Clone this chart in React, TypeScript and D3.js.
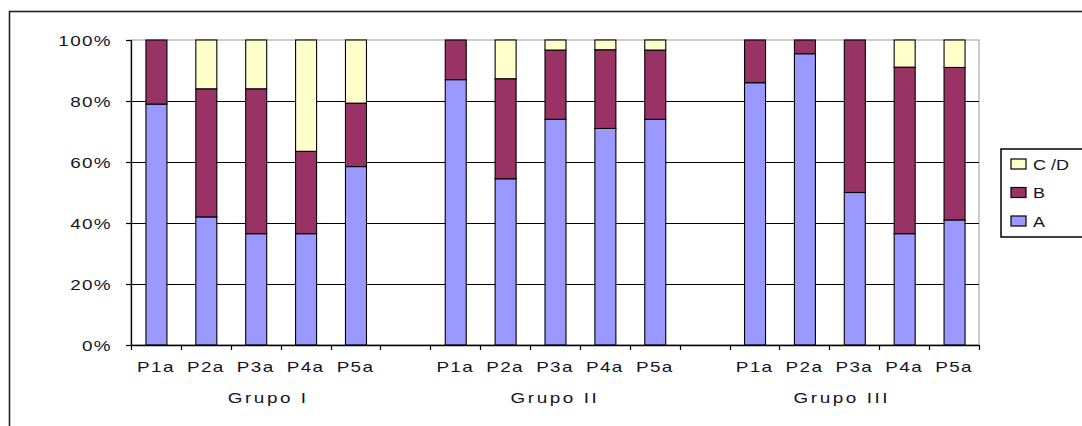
import React, { useEffect, useRef } from "react";
import * as d3 from "d3";

const categories = ["P1a", "P2a", "P3a", "P4a", "P5a"];
const groups = ["Grupo I", "Grupo II", "Grupo III"];
const seriesNames = ["A", "B", "C /D"];
const seriesColors = ["#9999FF", "#993366", "#FFFFCC"];
// values per group, per category (percent)
const valuesA = [
  [79, 42, 36.5, 36.5, 58.5],
  [87, 54.5, 74, 71, 74],
  [86, 95.5, 50, 36.5, 41],
];
const valuesB = [
  [21, 42, 47.5, 27, 20.8],
  [13, 32.8, 22.7, 25.8, 22.7],
  [14, 4.5, 50, 54.6, 50],
];
const valuesC = [
  [0, 16, 16, 36.5, 20.7],
  [0, 12.7, 3.3, 3.2, 3.3],
  [0, 0, 0, 8.9, 9],
];
const yTicks = [0, 20, 40, 60, 80, 100];

export default function App() {
  const ref = useRef<SVGSVGElement>(null);
  useEffect(() => {
    const svg = d3.select(ref.current);
    svg.selectAll("*").remove();
    const W = 1082, H = 426;
    const left = 131, right = 979, top = 40, bottom = 345;
    const nSlots = 17;
    const font = "'Liberation Sans', Arial, sans-serif";
    const sx = 1.35;
    const txtColor = "#141428";

    const slotIndex = (g: number, c: number) => g * 6 + c;
    const x = d3.scaleLinear().domain([0, nSlots]).range([left, right]);
    const y = d3.scaleLinear().domain([0, 100]).range([bottom, top]);
    const barW = 21;

    svg.append("rect").attr("x", 0).attr("y", 0).attr("width", W).attr("height", H).attr("fill", "#fff");
    svg.append("rect").attr("x", 9.5).attr("y", 11.5).attr("width", 1200).attr("height", 600)
      .attr("fill", "none").attr("stroke", "#222").attr("stroke-width", 1.6);

    svg.append("rect").attr("x", left).attr("y", top).attr("width", right - left).attr("height", bottom - top)
      .attr("fill", "none").attr("stroke", "#999").attr("stroke-width", 1);

    yTicks.filter((t) => t > 0 && t < 100).forEach((t) => {
      svg.append("line").attr("x1", left).attr("x2", right).attr("y1", Math.round(y(t)) + 0.5).attr("y2", Math.round(y(t)) + 0.5)
        .attr("stroke", "#000").attr("stroke-width", 1);
    });

    const seriesVals = [valuesA, valuesB, valuesC];
    groups.forEach((_, g) => {
      categories.forEach((_, c) => {
        let base = 0;
        seriesVals.forEach((sv, s) => {
          const v = sv[g][c];
          if (v > 0) {
            const cx = x(slotIndex(g, c) + 0.5);
            svg.append("rect")
              .attr("x", cx - barW / 2 + 0.5)
              .attr("y", y(base + v))
              .attr("width", barW)
              .attr("height", y(base) - y(base + v))
              .attr("fill", seriesColors[s])
              .attr("stroke", "#000")
              .attr("stroke-width", 1.1);
          }
          base += v;
        });
      });
    });

    svg.append("line").attr("x1", left + 0.5).attr("x2", left + 0.5).attr("y1", top).attr("y2", bottom + 0.5)
      .attr("stroke", "#000").attr("stroke-width", 1.3);
    svg.append("line").attr("x1", left).attr("x2", right).attr("y1", bottom + 0.5).attr("y2", bottom + 0.5)
      .attr("stroke", "#000").attr("stroke-width", 1.3);
    yTicks.forEach((t) => {
      const yy = Math.round(y(t)) + 0.5;
      svg.append("line").attr("x1", left - 5).attr("x2", left).attr("y1", yy).attr("y2", yy)
        .attr("stroke", "#000").attr("stroke-width", 1.2);
      svg.append("text")
        .attr("transform", `translate(${left - 19},${yy + 5}) scale(${sx},1)`)
        .attr("text-anchor", "end")
        .attr("font-family", font).attr("font-size", 14).attr("letter-spacing", 1)
        .attr("fill", txtColor)
        .text(`${t}%`);
    });
    d3.range(nSlots + 1).forEach((i) => {
      const xx = Math.round(x(i)) + 0.5;
      svg.append("line").attr("x1", xx).attr("x2", xx).attr("y1", bottom).attr("y2", bottom + 5)
        .attr("stroke", "#000").attr("stroke-width", 1.2);
    });

    groups.forEach((gname, g) => {
      categories.forEach((cname, c) => {
        const cx = x(slotIndex(g, c) + 0.5);
        svg.append("text")
          .attr("transform", `translate(${cx},${372}) scale(${sx},1)`)
          .attr("text-anchor", "middle")
          .attr("font-family", font).attr("font-size", 14).attr("letter-spacing", 1)
          .attr("fill", txtColor)
          .text(cname);
      });
      const g0 = g === 0 ? 0 : g * 6 - 0.5;
      const g1 = g === groups.length - 1 ? nSlots : g * 6 + 5.5;
      const gc = x((g0 + g1) / 2);
      svg.append("text")
        .attr("transform", `translate(${gc},${403}) scale(${sx},1)`)
        .attr("text-anchor", "middle")
        .attr("font-family", font).attr("font-size", 14).attr("letter-spacing", 1.9)
        .attr("fill", txtColor)
        .text(gname);
    });

    const lg = svg.append("g");
    lg.append("rect").attr("x", 1001).attr("y", 149).attr("width", 90).attr("height", 88)
      .attr("fill", "#fff").attr("stroke", "#000").attr("stroke-width", 1.5);
    const order = [2, 1, 0];
    order.forEach((s, i) => {
      const yy = 159 + i * 28.5;
      lg.append("rect").attr("x", 1011).attr("y", yy).attr("width", 15).attr("height", 10)
        .attr("fill", seriesColors[s]).attr("stroke", "#000").attr("stroke-width", 1.2);
      lg.append("text")
        .attr("transform", `translate(${1033},${yy + 10.5}) scale(1.2,1)`)
        .attr("font-family", font).attr("font-size", 15)
        .attr("fill", txtColor)
        .text(seriesNames[s]);
    });
  }, []);
  return (
    <svg ref={ref} width={1082} height={426}
      style={{ position: "absolute", left: 0, top: 0, display: "block" }} />
  );
}
